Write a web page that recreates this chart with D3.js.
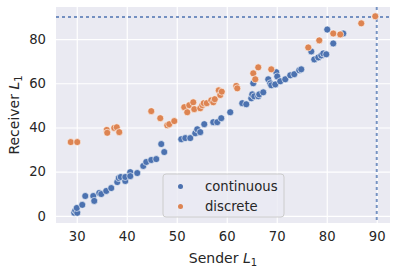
<!DOCTYPE html>
<html>
<head>
<meta charset="utf-8">
<script src="https://cdn.jsdelivr.net/npm/d3@7"></script>
<style>
  body { margin: 0; background: #fff; }
  text { font-family: "DejaVu Sans", sans-serif; fill: #262626; }
</style>
</head>
<body>
<div id="chart"></div>
<script>
// data
var seriesNames = ["continuous", "discrete"];
var contX = [29.5, 29.7, 30.1, 30.0, 31.1, 31.7, 33.3, 33.5, 34.5, 34.9, 35.9, 36.9, 38.1, 38.4, 38.8, 39.7, 39.7,
    40.7, 40.7, 42.1, 43.3, 43.9, 44.9, 45.9, 46.9, 47.5, 50.9, 51.7, 52.7, 53.7, 54.1, 54.7, 55.5, 57.3, 58.1, 58.9,
    60.7, 63.1, 63.9, 64.9, 65.1, 65.5, 66.3, 66.5, 67.3, 65.3, 68.3, 68.7, 68.9, 69.7, 69.9, 70.1, 70.7, 71.7,
    72.7, 73.5, 74.5, 74.9, 76.9, 77.5, 78.3, 78.9, 79.3, 79.9, 80.1, 81.3, 83.3];
var contY = [1.4, 2.5, 1.4, 3.6, 5.0, 9.0, 9.0, 6.8, 10.4, 9.9, 11.3, 12.6, 15.3, 17.1, 17.6, 15.8, 17.6,
    19.8, 18.0, 19.4, 22.6, 24.4, 25.3, 25.7, 32.5, 28.9, 34.7, 35.2, 35.2, 37.4, 39.2, 37.9, 41.5, 42.4, 42.4, 44.2,
    46.9, 51.0, 50.5, 53.2, 55.0, 54.1, 54.1, 55.0, 55.9, 60.0, 61.8, 60.0, 59.1, 59.5, 65.0, 63.1, 60.9, 61.8,
    63.6, 64.1, 65.9, 66.3, 74.4, 70.8, 71.7, 72.6, 73.5, 73.1, 84.3, 78.0, 82.5];
var discX = [28.8, 30.1, 36.0, 36.1, 37.5, 38.0, 38.5, 44.9, 46.7, 48.1, 48.5, 49.5, 51.5, 52.1, 52.5, 53.3, 53.5,
    54.7, 55.1, 55.4, 56.0, 56.9, 57.3, 57.6, 58.4, 58.7, 59.0, 61.9, 62.1, 65.3, 65.7, 66.3, 68.9, 76.3, 78.5,
    81.3, 82.7, 86.9, 89.7];
var discY = [33.4, 33.4, 38.9, 37.6, 39.8, 40.1, 37.9, 47.4, 44.2, 41.0, 41.5, 42.9, 49.2, 46.9, 50.1, 51.4, 48.3,
    48.7, 50.1, 51.0, 51.0, 52.3, 51.4, 52.8, 56.8, 54.7, 56.2, 58.8, 57.7, 64.5, 61.8, 67.2, 66.3, 76.2, 79.4,
    82.5, 82.1, 87.1, 90.3];
var xTicks = [30, 40, 50, 60, 70, 80, 90];
var yTicks = [0, 20, 40, 60, 80];
var refValue = 90;

var W = 396, H = 275;
var margin = {left: 56, right: 6, top: 7, bottom: 52};
var w = W - margin.left - margin.right, h = H - margin.top - margin.bottom;
var colors = ["#4C72B0", "#DD8452"];

var svg = d3.select("#chart").append("svg")
    .attr("width", W).attr("height", H);
var g = svg.append("g")
    .attr("transform", "translate(" + margin.left + "," + margin.top + ")");

var x = d3.scaleLinear().domain([25.85, 92.65]).range([0, w]);
var y = d3.scaleLinear().domain([-3.2, 94.5]).range([h, 0]);

g.append("rect").attr("width", w).attr("height", h).attr("fill", "#EAEAF2");

// grid
g.append("g").attr("transform", "translate(0," + h + ")")
    .call(d3.axisBottom(x).tickValues(xTicks).tickSize(-h).tickFormat(""))
    .call(s => s.select(".domain").remove())
    .call(s => s.selectAll("line").attr("stroke", "#fff").attr("stroke-width", 1.2));
g.append("g")
    .call(d3.axisLeft(y).tickValues(yTicks).tickSize(-w).tickFormat(""))
    .call(s => s.select(".domain").remove())
    .call(s => s.selectAll("line").attr("stroke", "#fff").attr("stroke-width", 1.2));

// tick labels
g.append("g").attr("transform", "translate(0," + h + ")")
    .call(d3.axisBottom(x).tickValues(xTicks).tickSize(0).tickPadding(9))
    .call(s => s.select(".domain").remove())
    .call(s => s.selectAll("text").attr("font-size", 13.2).style("font-family", "DejaVu Sans"));
g.append("g")
    .call(d3.axisLeft(y).tickValues(yTicks).tickSize(0).tickPadding(10))
    .call(s => s.select(".domain").remove())
    .call(s => s.selectAll("text").attr("font-size", 13.2).style("font-family", "DejaVu Sans"));

// reference lines
g.append("line")
    .attr("x1", 0).attr("x2", w).attr("y1", y(refValue)).attr("y2", y(refValue))
    .attr("stroke", "#4C72B0").attr("stroke-opacity", 0.75)
    .attr("stroke-width", 2).attr("stroke-dasharray", "3,3");
g.append("line")
    .attr("y1", 0).attr("y2", h).attr("x1", x(refValue)).attr("x2", x(refValue))
    .attr("stroke", "#4C72B0").attr("stroke-opacity", 0.75)
    .attr("stroke-width", 2).attr("stroke-dasharray", "3,3");

// points
var sets = [d3.zip(contX, contY), d3.zip(discX, discY)];
sets.forEach(function(pts, i) {
    g.append("g").selectAll("circle").data(pts).enter()
        .append("circle")
        .attr("cx", d => x(d[0]))
        .attr("cy", d => y(d[1]))
        .attr("r", 3.5)
        .attr("fill", colors[i])
        .attr("stroke", "#fff")
        .attr("stroke-width", 0.6);
});

// legend
var lg = g.append("g").attr("transform", "translate(107,167)");
lg.append("rect").attr("width", 121).attr("height", 43).attr("rx", 3)
    .attr("fill", "#EAEAF2").attr("fill-opacity", 0.8)
    .attr("stroke", "#cccccc").attr("stroke-width", 1);
seriesNames.forEach(function(name, i) {
    lg.append("circle").attr("cx", 17.5).attr("cy", 12.5 + i * 20).attr("r", 2.5)
        .attr("fill", colors[i]);
    lg.append("text").attr("x", 42).attr("y", 12.5 + i * 20).attr("dy", "0.35em")
        .attr("font-size", 13.2).text(name);
});

// axis labels
var xl = svg.append("text")
    .attr("x", margin.left + w / 2).attr("y", 263)
    .attr("text-anchor", "middle").attr("font-size", 14);
xl.append("tspan").text("Sender ");
xl.append("tspan").attr("font-style", "italic").text("L");
xl.append("tspan").attr("font-size", 10).attr("dy", 3).text("1");

var yl = svg.append("text")
    .attr("transform", "translate(19," + (margin.top + h / 2) + ") rotate(-90)")
    .attr("text-anchor", "middle").attr("font-size", 14);
yl.append("tspan").text("Receiver ");
yl.append("tspan").attr("font-style", "italic").text("L");
yl.append("tspan").attr("font-size", 10).attr("dy", 3).text("1");
</script>
</body>
</html>
